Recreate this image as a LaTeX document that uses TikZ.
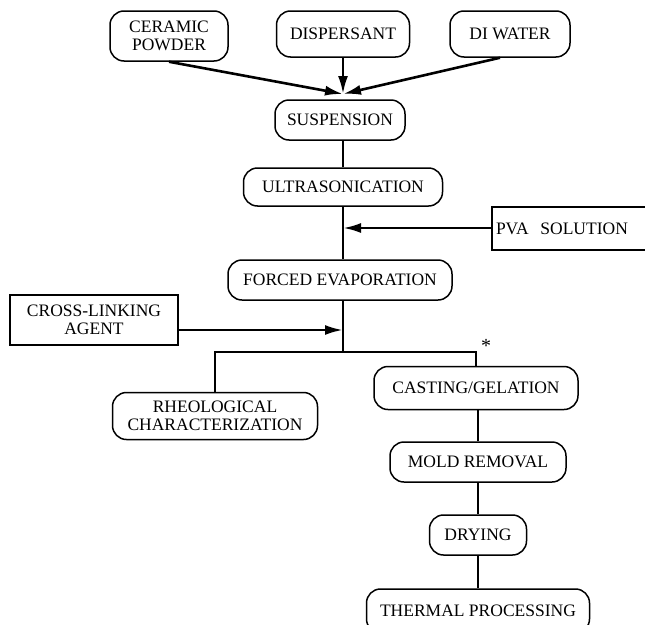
\documentclass[tikz,border=0pt]{standalone}
\usepackage{fontspec}
\setmainfont{Liberation Serif}
\usetikzlibrary{calc,arrows.meta}

\begin{document}
\begin{tikzpicture}[x = 1pt, y = -1pt,
  stage/.style = {draw, line width = 1.5pt, rounded corners = 14pt, align = center,
    inner sep = 0pt, font = \fontsize{17.5}{18}\selectfont},
  input/.style = {draw, line width = 1.5pt, align = center,
    inner sep = 0pt, font = \fontsize{17.5}{18}\selectfont},
  feed/.style = {line width = 2.6pt, -{Latex[length = 18pt, width = 10pt]}},
  link/.style = {line width = 1.1pt}]
\useasboundingbox (0,0) rectangle (645,624);

% raw materials
\node [stage, minimum width = 118pt, minimum height = 50pt] (powder) at (169,36) {CERAMIC\\POWDER};
\node [stage, minimum width = 133pt, minimum height = 46pt] (dispersant) at (343,34) {DISPERSANT};
\node [stage, minimum width = 120pt, minimum height = 46pt] (water) at (510,34) {DI WATER};
\coordinate (merge) at (343,94);
\draw [feed] (powder.south) -- (merge);
\draw [feed] (dispersant.south) -- (merge);
\draw [feed] ($(water.south)+(-10,0)$) -- (merge);

% slurry preparation
\node [stage, minimum width = 130pt, minimum height = 40pt] (suspension) at (340,120) {SUSPENSION};
\node [stage, minimum width = 199pt, minimum height = 38pt] (ultra) at (343,187) {ULTRASONICATION};
\node [stage, minimum width = 224pt, minimum height = 40pt] (forced) at (340,280) {FORCED EVAPORATION};
\draw [link] (ultra.north) -- (ultra.north |- suspension.south);
\draw [link] (ultra.south) -- (ultra.south |- forced.north);

\node [input, minimum width = 158pt, minimum height = 43pt, text width = 150pt, align = left] (pva) at (571,228.5) {PVA\ \ SOLUTION};
\coordinate (pvain) at (343,228);
\draw [feed] (pva.west |- pvain) -- (pvain);

\node [input, minimum width = 168pt, minimum height = 50pt] (crosslink) at (94,320) {CROSS-LINKING\\AGENT};
\coordinate (xin) at (343,330);
\draw [feed] (crosslink.east |- xin) -- (xin);

% branches
\coordinate (split) at (343,352);
\draw [link] (split |- forced.south) -- (split);
\node [stage, minimum width = 205pt, minimum height = 47pt] (rheo) at (215,416) {RHEOLOGICAL\\CHARACTERIZATION};
\node [stage, minimum width = 204pt, minimum height = 43pt] (casting) at (476,388) {CASTING/GELATION};
\draw [link] (rheo.north) |- (split) -| (casting.north);
\node [font = \fontsize{20}{20}\selectfont] (star) at (486,346) {*};

% forming and firing
\node [stage, minimum width = 176pt, minimum height = 40pt] (mold) at (478,462) {MOLD REMOVAL};
\node [stage, minimum width = 97pt, minimum height = 40pt] (drying) at (478,535) {DRYING};
\node [stage, minimum width = 223pt, minimum height = 44pt] (thermal) at (478,611) {THERMAL PROCESSING};
\draw [link] (mold.north) -- (mold.north |- casting.south);
\draw [link] (mold.south) -- (drying.north);
\draw [link] (drying.south) -- (thermal.north);
\end{tikzpicture}
\end{document}
